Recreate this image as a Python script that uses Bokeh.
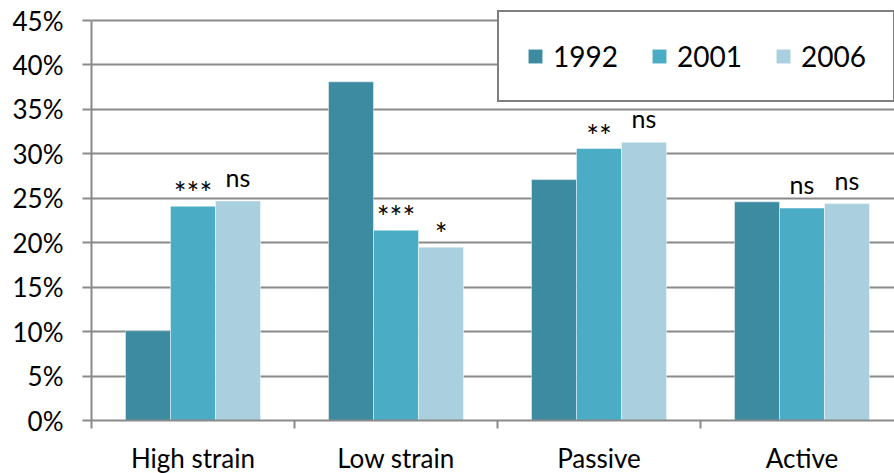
from bokeh.plotting import figure
from bokeh.models import (Range1d, FixedTicker, SingleIntervalTicker, PrintfTickFormatter,
                          Legend, LegendItem, ColumnDataSource)
from bokeh.core.properties import value
from bokeh.embed import file_html
from bokeh.resources import INLINE

# Job-strain quadrants, share of respondents (%) per survey year
categories = ["High strain", "Low strain", "Passive", "Active"]
years = ["1992", "2001", "2006"]
share_1992 = [10.1, 38.1, 27.1, 24.6]
share_2001 = [24.1, 21.4, 30.6, 23.9]
share_2006 = [24.7, 19.5, 31.3, 24.4]
# significance of change versus the previous survey
sig_2001 = ["***", "***", "**", "ns"]
sig_2006 = ["ns", "*", "ns", "ns"]

colors = ["#3C8BA1", "#4BACC6", "#AACFDE"]
FONT = "Lato"
GRID = "#8a8a8a"

bar_w = 0.2217
offsets = [-bar_w, 0.0, bar_w]
centers = [i + 0.5 for i in range(len(categories))]

# head-room above 45% so the legend box can sit above the top gridline
px_per_pct = 400 / 45
y_top = 45 + 14 / px_per_pct

p = figure(frame_width=803, frame_height=414,
           x_range=Range1d(0, 803 / 203), y_range=Range1d(0, y_top),
           output_backend="svg", toolbar_location=None,
           min_border_left=91, min_border_right=0, min_border_top=6, min_border_bottom=53)
p.outline_line_color = None
p.background_fill_color = "white"
p.border_fill_color = "white"

series = [share_1992, share_2001, share_2006]
renderers = []
for vals, off, col in zip(series, offsets, colors):
    src = ColumnDataSource(dict(x=[c + off for c in centers], top=vals))
    r = p.vbar(x="x", top="top", width=bar_w, bottom=0, source=src,
               fill_color=col, line_color="white", line_alpha=0.45, line_width=1)
    renderers.append(r)

# significance markers above the 2001 and 2006 bars
ns_x, ns_y, ns_t, st_x, st_y, st_t = [], [], [], [], [], []
for vals, off, marks in [(share_2001, offsets[1], sig_2001), (share_2006, offsets[2], sig_2006)]:
    for c, v, m in zip(centers, vals, marks):
        if m == "ns":
            ns_x.append(c + off); ns_y.append(v); ns_t.append(m)
        else:
            st_x.append(c + off); st_y.append(v); st_t.append(m)

p.text(x=ns_x, y=ns_y, text=ns_t, text_font=value(FONT),
       text_font_size="25px", text_align="center", text_baseline="alphabetic",
       y_offset=-24, text_color="black")
p.text(x=st_x, y=st_y, text=st_t, text_font=value(FONT),
       text_font_size="30px", text_align="center", text_baseline="alphabetic",
       y_offset=-14, text_color="black")

# y axis
p.yaxis.ticker = SingleIntervalTicker(interval=5, num_minor_ticks=0)
p.yaxis.formatter = PrintfTickFormatter(format="%d%%")
p.yaxis.bounds = (0, 45)
p.yaxis.major_tick_out = 9
p.yaxis.major_tick_in = 0
p.yaxis.minor_tick_out = 0
p.yaxis.minor_tick_in = 0
p.yaxis.axis_line_color = GRID
p.yaxis.axis_line_width = 2
p.yaxis.major_tick_line_color = GRID
p.yaxis.major_tick_line_width = 2
p.yaxis.major_label_text_font = FONT
p.yaxis.major_label_text_font_size = "26px"
p.yaxis.major_label_text_color = "black"
p.yaxis.major_label_standoff = 19

# x axis: labels at group centres, ticks at group boundaries
p.xaxis.ticker = FixedTicker(ticks=centers, minor_ticks=list(range(len(categories) + 1)))
p.xaxis.major_label_overrides = {c: name for c, name in zip(centers, categories)}
p.xaxis.major_tick_out = 0
p.xaxis.major_tick_in = 0
p.xaxis.minor_tick_out = 8
p.xaxis.minor_tick_in = 0
p.xaxis.minor_tick_line_color = GRID
p.xaxis.minor_tick_line_width = 2
p.xaxis.axis_line_color = GRID
p.xaxis.axis_line_width = 2
p.xaxis.major_label_text_font = FONT
p.xaxis.major_label_text_font_size = "26px"
p.xaxis.major_label_text_color = "black"
p.xaxis.major_label_standoff = 13

p.xgrid.visible = False
p.ygrid.ticker = SingleIntervalTicker(interval=5, num_minor_ticks=0)
p.ygrid.grid_line_color = GRID
p.ygrid.grid_line_width = 2

legend = Legend(items=[LegendItem(label=y, renderers=[r]) for y, r in zip(years, renderers)],
                orientation="horizontal", location=(406, 318))
legend.label_text_font = FONT
legend.label_text_font_size = "28px"
legend.label_text_color = "black"
legend.glyph_width = 18
legend.glyph_height = 18
legend.label_standoff = 9
legend.label_height = 34
legend.spacing = 32
legend.padding = 27
legend.margin = 0
legend.border_line_color = "black"
legend.border_line_width = 2
legend.background_fill_color = "white"
legend.background_fill_alpha = 1.0
p.add_layout(legend, "center")

open("out.html", "w").write(file_html(p, INLINE))
